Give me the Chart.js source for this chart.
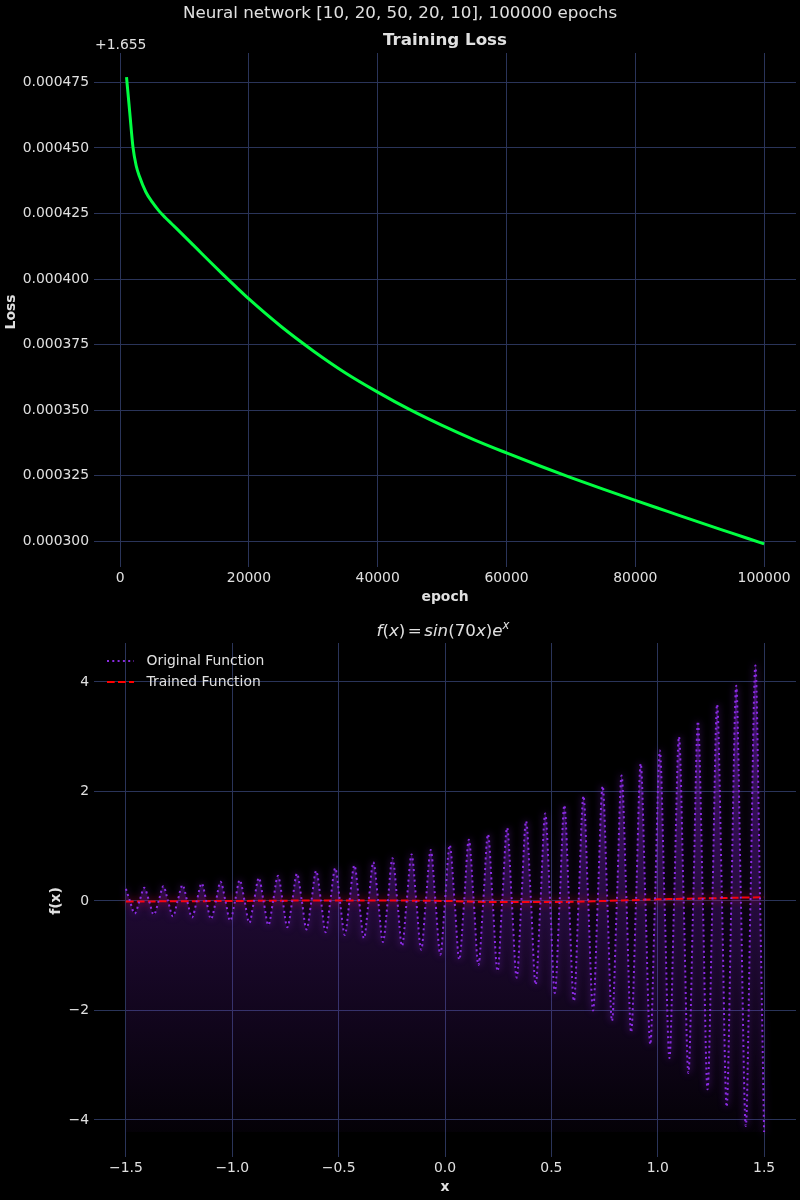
<!DOCTYPE html>
<html><head><meta charset="utf-8">
<script src="https://cdn.jsdelivr.net/npm/chart.js@4.4.1/dist/chart.umd.min.js"></script>
<style>
html,body{margin:0;padding:0;background:#000;}
#wrap{position:relative;width:800px;height:1200px;background:#000;overflow:hidden;}
canvas{position:absolute;left:0;}
</style></head><body>
<div id="wrap">
<canvas id="c1" width="800" height="620" style="top:0px"></canvas>
<canvas id="c2" width="800" height="600" style="top:600px"></canvas>
</div>
<script>
// ---------- data ----------
const SUPTITLE = 'Neural network [10, 20, 50, 20, 10], 100000 epochs';
const LOSS_TITLE = 'Training Loss';
const LOSS_OFFSET = 1.655;   // matplotlib offset label "+1.655"
const lossEpochs = [1000, 1500, 2000, 2500, 3000, 4000, 5000, 6000, 7000, 8000, 10000, 12000,
  14000, 16000, 18000, 20000, 25000, 30000, 35000, 40000, 45000, 50000, 55000, 60000,
  65000, 70000, 75000, 80000, 85000, 90000, 95000, 100000];
const lossValues = [0.000477, 0.0004636, 0.0004503, 0.0004432, 0.0004392, 0.0004332, 0.0004293, 0.0004261,
  0.0004235, 0.0004211, 0.0004163, 0.0004114, 0.0004065, 0.0004017, 0.000397, 0.0003924,
  0.0003819, 0.0003726, 0.0003642, 0.0003569, 0.0003502, 0.0003442, 0.0003387, 0.0003337,
  0.0003289, 0.0003243, 0.0003199, 0.0003156, 0.0003114, 0.0003072, 0.0003031, 0.000299]; // minus offset
const epochTicks = [0, 20000, 40000, 60000, 80000, 100000];
const lossTicks = [0.0003, 0.000325, 0.00035, 0.000375, 0.0004, 0.000425, 0.00045, 0.000475];

const fxX = [-1.5,
  -1.481, -1.459, -1.436, -1.414, -1.391, -1.369, -1.346, -1.324, -1.302, -1.279, -1.257, -1.234,
  -1.212, -1.189, -1.167, -1.144, -1.122, -1.100, -1.077, -1.055, -1.032, -1.010, -0.987, -0.965,
  -0.942, -0.920, -0.898, -0.875, -0.853, -0.830, -0.808, -0.785, -0.763, -0.741, -0.718, -0.696,
  -0.673, -0.651, -0.628, -0.606, -0.583, -0.561, -0.539, -0.516, -0.494, -0.471, -0.449, -0.426,
  -0.404, -0.381, -0.359, -0.337, -0.314, -0.292, -0.269, -0.247, -0.224, -0.202, -0.180, -0.157,
  -0.135, -0.112, -0.090, -0.067, -0.045, -0.022, 0, 0.022, 0.045, 0.067, 0.090, 0.112,
  0.135, 0.157, 0.180, 0.202, 0.224, 0.247, 0.269, 0.292, 0.314, 0.337, 0.359, 0.381,
  0.404, 0.426, 0.449, 0.471, 0.494, 0.516, 0.539, 0.561, 0.583, 0.606, 0.628, 0.651,
  0.673, 0.696, 0.718, 0.741, 0.763, 0.785, 0.808, 0.830, 0.853, 0.875, 0.898, 0.920,
  0.942, 0.965, 0.987, 1.010, 1.032, 1.055, 1.077, 1.100, 1.122, 1.144, 1.167, 1.189,
  1.212, 1.234, 1.257, 1.279, 1.302, 1.324, 1.346, 1.369, 1.391, 1.414, 1.436, 1.459,
  1.481, 1.5];
const fxY = [0.22,
  0, -0.23, 0, 0.24, 0, -0.25, 0, 0.27, 0, -0.28, 0, 0.29,
  0, -0.30, 0, 0.32, 0, -0.33, 0, 0.35, 0, -0.36, 0, 0.38,
  0, -0.40, 0, 0.42, 0, -0.44, 0, 0.46, 0, -0.48, 0, 0.50,
  0, -0.52, 0, 0.55, 0, -0.57, 0, 0.60, 0, -0.62, 0, 0.65,
  0, -0.68, 0, 0.71, 0, -0.75, 0, 0.78, 0, -0.82, 0, 0.85,
  0, -0.89, 0, 0.93, 0, -0.98, 0, 1.02, 0, -1.07, 0, 1.12,
  0, -1.17, 0, 1.22, 0, -1.28, 0, 1.34, 0, -1.40, 0, 1.46,
  0, -1.53, 0, 1.60, 0, -1.68, 0, 1.75, 0, -1.83, 0, 1.92,
  0, -2.00, 0, 2.10, 0, -2.19, 0, 2.29, 0, -2.40, 0, 2.51,
  0, -2.62, 0, 2.75, 0, -2.87, 0, 3.00, 0, -3.14, 0, 3.28,
  0, -3.44, 0, 3.59, 0, -3.76, 0, 3.93, 0, -4.11, 0, 4.30,
  0, -4.22];
const trainedX = [-1.5, -1.0, -0.5, 0, 0.25, 0.5, 0.75, 1.0, 1.25, 1.5];
const trainedY = [-0.01, 0.0, 0.01, 0.0, -0.02, -0.02, 0.0, 0.03, 0.05, 0.07];
const xTicks = [-1.5, -1.0, -0.5, 0, 0.5, 1.0, 1.5];
const fTicks = [-4, -2, 0, 2, 4];
const LEGEND = ['Original Function', 'Trained Function'];

// ---------- style ----------
const FF = '"DejaVu Sans", sans-serif';
const TXT = '#e0e0e0';
const GRID = '#2A3459';
const GREEN = '#00ff41';
const PURPLE = '#8a2be2';
const RED = '#ff0000';
Chart.defaults.font.family = FF;
Chart.defaults.color = TXT;
Chart.defaults.animation = false;

const minus = s => s.replace('-', '\u2212');

const glowPlugin = {
  id: 'glow',
  beforeDatasetDraw(chart, args) {
    const ds = chart.data.datasets[args.index];
    if (ds.glowColor) { chart.ctx.save(); chart.ctx.shadowColor = ds.glowColor; chart.ctx.shadowBlur = ds.glowBlur; }
  },
  afterDatasetDraw(chart, args) {
    const ds = chart.data.datasets[args.index];
    if (ds.glowColor) chart.ctx.restore();
  }
};

function axisCommon(ticksArr, fmt) {
  return {
    type: 'linear',
    grid: { color: GRID, lineWidth: 1, drawTicks: false },
    border: { display: false },
    ticks: { font: { size: 13.9, family: FF }, color: TXT, callback: fmt, autoSkip: false, maxRotation: 0 },
    afterBuildTicks: s => { s.ticks = ticksArr.map(v => ({ value: v })); }
  };
}

// ---------- top chart ----------
const topText = {
  id: 'topText',
  afterDraw(chart) {
    const c = chart.ctx; c.save(); c.fillStyle = TXT;
    c.textAlign = 'center'; c.textBaseline = 'alphabetic';
    c.font = `16.7px ${FF}`; c.fillText(SUPTITLE, 400, 17.5);
    c.font = `bold 16.7px ${FF}`; c.fillText(LOSS_TITLE, 445, 44.5);
    c.textAlign = 'left'; c.font = `13.9px ${FF}`; c.fillText('+' + LOSS_OFFSET, 95, 49);
    c.textAlign = 'center'; c.textBaseline = 'middle'; c.font = `bold 13.9px ${FF}`;
    c.fillText('epoch', 445, 597);
    c.translate(11, 312); c.rotate(-Math.PI / 2); c.fillText('Loss', 0, 0);
    c.restore();
  }
};

const xTop = axisCommon(epochTicks, v => String(v));
xTop.min = -4050; xTop.max = 104950; xTop.ticks.padding = 3;
xTop.afterFit = s => { s.height = 53; };
const yTop = axisCommon(lossTicks, v => v.toFixed(6));
yTop.min = 0.0002902; yTop.max = 0.0004862; yTop.ticks.padding = 5;
yTop.afterFit = s => { s.width = 94; };

new Chart(document.getElementById('c1'), {
  type: 'line',
  data: { datasets: [{
    label: 'Loss',
    data: lossEpochs.map((e, i) => ({ x: e, y: lossValues[i] })),
    borderColor: GREEN, borderWidth: 3, pointRadius: 0, fill: false,
    cubicInterpolationMode: 'monotone'
  }] },
  options: {
    responsive: false, devicePixelRatio: 1,
    layout: { padding: { top: 53, right: 4, left: 0, bottom: 0 } },
    plugins: { legend: { display: false }, tooltip: { enabled: false }, title: { display: false } },
    scales: { x: xTop, y: yTop }
  },
  plugins: [topText]
});

// ---------- bottom chart ----------
function drawMath(c, cx, baseline, size) {
  const sup = size * 0.7;
  // [text, style, superscript, gap after]
  const parts = [
    ['f', 'italic', 0, 0], ['(', '', 0, 0], ['x', 'italic', 0, 0], [')', '', 0, 2.5], ['=', '', 0, 2.5],
    ['sin', 'italic', 0, 0], ['(70', '', 0, 0], ['x', 'italic', 0, 0], [')', '', 0, 0], ['e', 'italic', 0, 0], ['x', 'italic', 1, 0]
  ];
  const fontOf = p => `${p[1]} ${p[2] ? sup : size}px ${FF}`;
  let total = 0;
  parts.forEach(p => { c.font = fontOf(p); total += c.measureText(p[0]).width + p[3]; });
  let x = cx - total / 2;
  c.textAlign = 'left'; c.textBaseline = 'alphabetic';
  parts.forEach(p => {
    c.font = fontOf(p);
    c.fillText(p[0], x, baseline - (p[2] ? size * 0.42 : 0));
    x += c.measureText(p[0]).width + p[3];
  });
}

const bottomText = {
  id: 'bottomText',
  afterDraw(chart) {
    const c = chart.ctx; c.save(); c.fillStyle = TXT;
    drawMath(c, 443, 36, 16.7);
    // legend
    c.lineWidth = 2;
    c.strokeStyle = PURPLE; c.setLineDash([2, 3.3]);
    c.beginPath(); c.moveTo(107, 61); c.lineTo(134, 61); c.stroke();
    c.strokeStyle = RED; c.setLineDash([7.7, 3.3]);
    c.beginPath(); c.moveTo(107, 82); c.lineTo(134, 82); c.stroke();
    c.setLineDash([]);
    c.font = `13.9px ${FF}`; c.textAlign = 'left'; c.textBaseline = 'middle';
    c.fillText(LEGEND[0], 146.5, 61.5);
    c.fillText(LEGEND[1], 146.5, 82.5);
    // axis labels
    c.textAlign = 'center'; c.font = `bold 13.9px ${FF}`;
    c.fillText('x', 445, 587);
    c.translate(56, 301); c.rotate(-Math.PI / 2); c.fillText('f(x)', 0, 0);
    c.restore();
  }
};

const FILL_BASE = Math.min(...fxY);
const FILL_TOP = Math.max(...fxY);

const xBot = axisCommon(xTicks, v => minus(v.toFixed(1)));
xBot.min = -1.65; xBot.max = 1.65; xBot.ticks.padding = 3;
xBot.afterFit = s => { s.height = 43; };
const yBot = axisCommon(fTicks, v => minus(String(v)));
yBot.min = -4.676; yBot.max = 4.712; yBot.ticks.padding = 5;
yBot.afterFit = s => { s.width = 94; };

new Chart(document.getElementById('c2'), {
  type: 'line',
  data: { datasets: [
    {
      label: LEGEND[0],
      data: fxX.map((x, i) => ({ x, y: fxY[i] })),
      borderColor: PURPLE, borderWidth: 2, borderDash: [2, 3.3], pointRadius: 0,
      cubicInterpolationMode: 'monotone',
      fill: { value: FILL_BASE },
      backgroundColor: ctx => {
        const ch = ctx.chart;
        if (!ch.chartArea) return 'rgba(0,0,0,0)';
        const y0 = ch.scales.y.getPixelForValue(FILL_TOP);
        const y1 = ch.scales.y.getPixelForValue(FILL_BASE);
        const g = ch.ctx.createLinearGradient(0, y0, 0, y1);
        g.addColorStop(0, 'rgba(138,43,226,0.42)');
        g.addColorStop(1, 'rgba(138,43,226,0.03)');
        return g;
      },
      glowColor: 'rgba(138,43,226,0.9)', glowBlur: 7
    },
    {
      label: LEGEND[1],
      data: trainedX.map((x, i) => ({ x, y: trainedY[i] })),
      borderColor: RED, borderWidth: 2, borderDash: [7.7, 3.3], pointRadius: 0,
      cubicInterpolationMode: 'monotone', fill: false,
      glowColor: 'rgba(255,0,0,0.9)', glowBlur: 8
    }
  ] },
  options: {
    responsive: false, devicePixelRatio: 1,
    layout: { padding: { top: 43, right: 4, left: 0, bottom: 0 } },
    plugins: { legend: { display: false }, tooltip: { enabled: false }, title: { display: false },
      filler: { drawTime: 'beforeDatasetsDraw' } },
    scales: { x: xBot, y: yBot }
  },
  plugins: [glowPlugin, bottomText]
});
</script>
</body></html>
